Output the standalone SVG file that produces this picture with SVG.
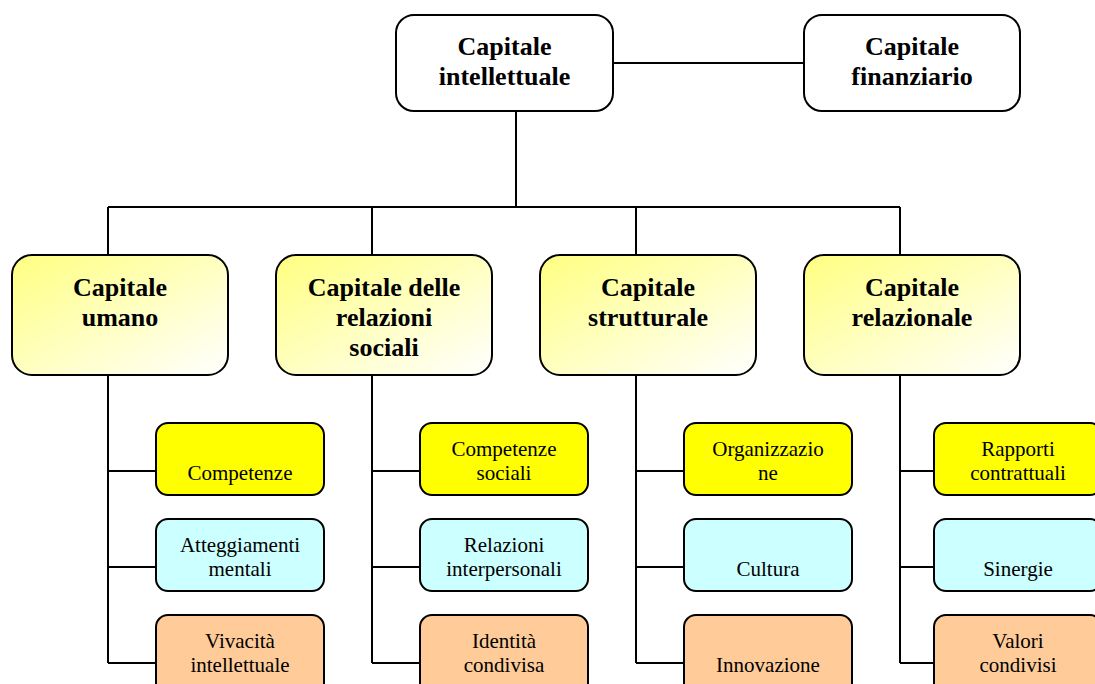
<svg xmlns="http://www.w3.org/2000/svg" width="1095" height="684" viewBox="0 0 1095 684">
<defs>
<linearGradient id="g" x1="0" y1="0" x2="1" y2="1">
<stop offset="0" stop-color="#FFFF80"/>
<stop offset="1" stop-color="#FFFFFF"/>
</linearGradient>
<style>
.box{stroke:#000;stroke-width:2}
.top{fill:#fff}
.l2{fill:url(#g)}
.y{fill:#FFFF00}
.c{fill:#CCFFFF}
.o{fill:#FFCC99}
.b{font-family:"Liberation Serif","Times New Roman",serif;font-weight:bold;font-size:26px;text-anchor:middle;fill:#000}
.t{font-family:"Liberation Serif","Times New Roman",serif;font-size:21px;text-anchor:middle;fill:#000}
.ln{stroke:#000;stroke-width:2;fill:none}
</style>
</defs>
<rect width="1095" height="684" fill="#fff"/>
<g id="connectors">
<path class="ln" d="M613 63H804"/>
<path class="ln" d="M516 111V207M108 207H900M108 207V255M372 207V255M636 207V255M900 207V255"/>
<path class="ln" d="M108 375V663M108 471H156M108 567H156M108 663H156"/>
<path class="ln" d="M372 375V663M372 471H420M372 567H420M372 663H420"/>
<path class="ln" d="M636 375V663M636 471H684M636 567H684M636 663H684"/>
<path class="ln" d="M900 375V663M900 471H934M900 567H934M900 663H934"/>
</g>
<g id="n-intellettuale"><rect class="box top" x="396" y="15" width="217" height="96" rx="18"/><text class="b" x="504.5" y="55">Capitale</text><text class="b" x="504.5" y="85">intellettuale</text></g>
<g id="n-finanziario"><rect class="box top" x="804" y="15" width="216" height="96" rx="18"/><text class="b" x="912" y="55">Capitale</text><text class="b" x="912" y="85">finanziario</text></g>
<g id="n-umano"><rect class="box l2" x="12" y="255" width="216" height="120" rx="20"/><text class="b" x="120" y="296">Capitale</text><text class="b" x="120" y="326">umano</text></g>
<g id="n-sociali"><rect class="box l2" x="276" y="255" width="216" height="120" rx="20"/><text class="b" x="384" y="296">Capitale delle</text><text class="b" x="384" y="326">relazioni</text><text class="b" x="384" y="356">sociali</text></g>
<g id="n-strutturale"><rect class="box l2" x="540" y="255" width="216" height="120" rx="20"/><text class="b" x="648" y="296">Capitale</text><text class="b" x="648" y="326">strutturale</text></g>
<g id="n-relazionale"><rect class="box l2" x="804" y="255" width="216" height="120" rx="20"/><text class="b" x="912" y="296">Capitale</text><text class="b" x="912" y="326">relazionale</text></g>

<g id="n-competenze"><rect class="box y" x="156" y="423" width="168" height="72" rx="12"/><text class="t" x="240" y="480">Competenze</text></g>
<g id="n-atteggiamenti"><rect class="box c" x="156" y="519" width="168" height="72" rx="12"/><text class="t" x="240" y="552">Atteggiamenti</text><text class="t" x="240" y="576">mentali</text></g>
<g id="n-vivacita"><rect class="box o" x="156" y="615" width="168" height="80" rx="12"/><text class="t" x="240" y="648">Vivacità</text><text class="t" x="240" y="672">intellettuale</text></g>

<g id="n-compsociali"><rect class="box y" x="420" y="423" width="168" height="72" rx="12"/><text class="t" x="504" y="456">Competenze</text><text class="t" x="504" y="480">sociali</text></g>
<g id="n-relazioni"><rect class="box c" x="420" y="519" width="168" height="72" rx="12"/><text class="t" x="504" y="552">Relazioni</text><text class="t" x="504" y="576">interpersonali</text></g>
<g id="n-identita"><rect class="box o" x="420" y="615" width="168" height="80" rx="12"/><text class="t" x="504" y="648">Identità</text><text class="t" x="504" y="672">condivisa</text></g>

<g id="n-organizzazione"><rect class="box y" x="684" y="423" width="168" height="72" rx="12"/><text class="t" x="768" y="456">Organizzazio</text><text class="t" x="768" y="480">ne</text></g>
<g id="n-cultura"><rect class="box c" x="684" y="519" width="168" height="72" rx="12"/><text class="t" x="768" y="576">Cultura</text></g>
<g id="n-innovazione"><rect class="box o" x="684" y="615" width="168" height="80" rx="12"/><text class="t" x="768" y="672">Innovazione</text></g>

<g id="n-rapporti"><rect class="box y" x="934" y="423" width="168" height="72" rx="12"/><text class="t" x="1018" y="456">Rapporti</text><text class="t" x="1018" y="480">contrattuali</text></g>
<g id="n-sinergie"><rect class="box c" x="934" y="519" width="168" height="72" rx="12"/><text class="t" x="1018" y="576">Sinergie</text></g>
<g id="n-valori"><rect class="box o" x="934" y="615" width="168" height="80" rx="12"/><text class="t" x="1018" y="648">Valori</text><text class="t" x="1018" y="672">condivisi</text></g>
</svg>
